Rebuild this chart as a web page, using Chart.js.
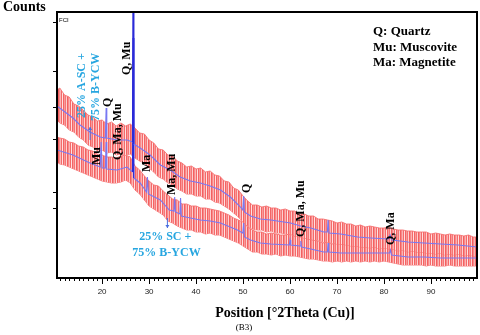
<!DOCTYPE html>
<html><head><meta charset="utf-8">
<script src="https://cdn.jsdelivr.net/npm/chart.js@4"></script>
<style>html,body{margin:0;padding:0;background:#fff}#wrap{position:relative;width:480px;height:335px}</style>
</head><body><div id="wrap"><canvas id="c"></canvas></div>
<script>
// ---- smoothed (fitted) profiles, 2theta vs intensity (arbitrary counts units)
const thetaA = [10.4,12.1,13.8,15.3,17.4,19.6,20.7,20.86,21.0,23.2,25.3,26.5,26.62,26.74,28.1,30.2,32.4,34.5,36.6,38.8,40.9,43.0,45.2,47.3,49.45,49.95,50.14,50.3,51.6,53.7,55.9,60.1,62.25,64.4,67.2,67.95,68.1,68.3,70.8,74.4,77.2,80.9,81.3,81.7,85.1,88.5,92.1,95.8,99.8];
const smoothA = [172,166,160,153,146,141,140,170,140,138,138,136,320,134,130,123,113,108,101,97,95,92,88,81,71,68,82,66,62,59,58,55,52,50,46,46,58,45,44,41,40,39,43,38,36,35,34,33,31];
const thetaB = [10.4,13.8,17.4,19.6,19.8,20.0,20.7,20.86,21.0,23.2,25.3,26.5,26.62,26.74,28.1,29.45,29.65,29.85,32.4,34.3,35.3,35.45,35.6,36.55,36.7,36.85,38.8,40.9,43.0,45.2,48.8,49.95,50.14,50.3,51.6,53.7,55.9,59.85,60.0,60.15,62.15,62.3,62.45,64.4,67.2,67.95,68.1,68.25,70.8,74.4,77.2,81.2,81.4,81.6,85.1,88.5,92.1,95.8,99.8];
const smoothB = [128,123,115,111,136,110,110,136,109,108,111,106,240,100,95,86,101,84,78,68,67,81,66,64,80,62,60,58,57,55,48,45,55,41,38,35,34,33,38,33,32,37,31,29,26,26,35,26,25,25,25,25,28,23,21,21,20,20,20];

// ---- raw (noisy) data envelopes, read every 1 degree
const rawTheta = [10.4,11,12,13,14,15,16,17,18,19,20,21,22,23,24,25,26,27,28,29,30,31,32,33,34,35,36,37,38,39,40,41,42,43,44,45,46,47,48,49,50,51,52,53,54,55,56,57,58,59,60,61,62,63,64,65,66,67,68,69,70,71,72,73,74,75,76,77,78,79,80,81,82,83,84,85,86,87,88,89,90,91,92,93,94,95,96,97,98,99,99.8];
const rawAHigh = [188,190,183,181,174,172,168,163,161,157,158,154,156,152,155,152,154,150,145,144,138,135,129,128,123,122,117,115,111,112,109,110,106,107,103,102,97,96,90,88,82,77,73,73,71,72,70,70,68,69,67,67,64,64,62,62,59,59,58,57,55,56,54,54,52,53,51,52,51,50,50,51,49,48,48,47,47,46,46,46,44,45,44,43,44,43,43,42,43,41,41];
const rawALow = [158,155,153,148,146,141,138,133,131,127,128,125,126,123,124,123,124,120,117,115,110,106,101,99,95,93,89,87,84,84,82,82,79,79,76,75,72,69,65,61,56,52,49,48,48,46,47,45,45,44,44,42,41,40,39,38,38,36,36,35,34,34,33,32,32,31,31,30,31,29,30,29,29,27,28,26,27,26,26,25,25,24,25,23,24,23,24,22,23,22,22];
const rawBHigh = [141,140,139,136,135,132,131,128,127,124,123,121,121,120,122,123,121,112,108,102,97,93,92,87,83,79,78,74,74,72,72,70,70,69,68,67,65,63,60,58,56,51,48,46,46,44,45,44,43,43,44,42,43,40,39,38,37,35,36,34,35,34,34,33,34,33,34,33,34,32,33,33,31,30,29,29,28,29,28,28,27,28,27,27,28,27,27,26,27,26,26];
const rawBLow = [116,114,113,111,109,107,105,103,101,99,97,96,95,95,96,98,95,88,84,78,72,69,66,63,57,55,52,50,48,48,46,46,44,45,43,43,41,39,37,35,32,29,26,26,24,24,23,24,22,23,22,22,21,20,19,19,18,17,17,16,17,16,17,16,17,16,17,16,17,16,17,16,15,14,13,13,13,13,13,12,13,12,12,12,13,12,12,12,12,12,12];

// ---- axis ticks
const xTickValues = [20,30,40,50,60,70,80,90];
const yTickValues = [70,86,139,171,207,256];

// ---- phase annotations (rotated)
const peakLabels = ["Q, Mu","Q","Q, Ma, Mu","Mu","Ma","Ma, Mu","Q","Q, Ma, Mu","Q, Ma"];
const peakLabelTheta = [25.33,21.3,23.4,18.9,29.6,34.9,50.9,62.25,81.46];
const peakLabelBase = [203,171,118,113,106,83,85,41,33];
const sampleALines = ["25% A-SC +","75% B-YCW"];
const sampleATheta = [15.73,18.72];
const sampleABase = [160,157];
const sampleBLines = ["25% SC +","75% B-YCW"];
const sampleBTheta = [33.44,33.7];
const sampleBMid = [41,25];
const legendLines = ["Q: Quartz","Mu: Muscovite","Ma: Magnetite"];
const arrowTheta = [17.45,33.9];
const arrowFrom = [138,60];
const arrowTo = [151,50];

const BLUE = '#7878f2', DARK = '#2a2ad8', RED = 'rgba(246,110,110,0.85)', CYAN = '#27a6e0';
const canvas = document.getElementById('c');
const ctx0 = canvas.getContext('2d');
// vertical-streak texture used as fill style for the raw-data bands
const streaks = ['#f46464','#f99a9a','#f67676','#fdd0d0','#f36060','#f88a8a','#fbb4b4','#f46a6a','#ffe0e0'];
const pc = document.createElement('canvas'); pc.width = streaks.length; pc.height = 4;
const pg = pc.getContext('2d');
streaks.forEach((c,i)=>{pg.fillStyle=c; pg.fillRect(i,0,1,4);});
const stripe = ctx0.createPattern(pc,'repeat');

const pts = (xs, ys) => xs.map((x,i)=>({x:x, y:ys[i]}));
const seg = {
  borderColor: c => Math.abs(c.p1.parsed.y - c.p0.parsed.y) > 60 ? DARK : BLUE,
  borderWidth: c => Math.abs(c.p1.parsed.y - c.p0.parsed.y) > 60 ? 1.4 : 1.1
};

const decor = {
  id: 'decor',
  afterDatasetsDraw(chart) {
    const g = chart.ctx, xs = chart.scales.x, ys = chart.scales.y, a = chart.chartArea;
    g.save();
    // frame
    g.strokeStyle = '#000'; g.lineWidth = 2;
    g.strokeRect(a.left, a.top, a.right - a.left, a.bottom - a.top);
    // x minor + major ticks
    g.lineWidth = 1;
    for (let v = 11; v <= 99; v++) {
      const px = Math.round(xs.getPixelForValue(v)) + 0.5;
      const len = xTickValues.includes(v) ? 6 : 3;
      g.beginPath(); g.moveTo(px, a.bottom); g.lineTo(px, a.bottom + len); g.stroke();
    }
    g.fillStyle = '#222'; g.font = '8px "Liberation Sans"'; g.textAlign = 'center'; g.textBaseline = 'middle';
    xTickValues.forEach(v => g.fillText(String(v), xs.getPixelForValue(v), a.bottom + 14));
    // y ticks
    yTickValues.forEach(v => {
      const py = Math.round(ys.getPixelForValue(v)) + 0.5;
      g.beginPath(); g.moveTo(a.left - 4, py); g.lineTo(a.left, py); g.stroke();
    });
    // peak labels
    g.fillStyle = '#000'; g.font = 'bold 12px "Liberation Serif"'; g.textAlign = 'left';
    peakLabels.forEach((t,i) => {
      g.save(); g.translate(xs.getPixelForValue(peakLabelTheta[i]), ys.getPixelForValue(peakLabelBase[i]));
      g.rotate(-Math.PI/2); g.fillText(t, 0, 0); g.restore();
    });
    g.fillStyle = CYAN;
    sampleALines.forEach((t,i) => {
      g.save(); g.translate(xs.getPixelForValue(sampleATheta[i]), ys.getPixelForValue(sampleABase[i]));
      g.rotate(-Math.PI/2); g.fillText(t, 0, 0); g.restore();
    });
    g.textAlign = 'center';
    sampleBLines.forEach((t,i) => g.fillText(t, xs.getPixelForValue(sampleBTheta[i]), ys.getPixelForValue(sampleBMid[i])));
    // arrows
    g.strokeStyle = '#4a6fe0'; g.fillStyle = '#4a6fe0'; g.lineWidth = 1;
    arrowTheta.forEach((t,i) => {
      const px = xs.getPixelForValue(t), y0 = ys.getPixelForValue(arrowFrom[i]), y1 = ys.getPixelForValue(arrowTo[i]);
      const d = y1 > y0 ? 1 : -1;
      g.beginPath(); g.moveTo(px, y0); g.lineTo(px, y1); g.stroke();
      g.beginPath(); g.moveTo(px, y1); g.lineTo(px - 2, y1 - 3*d); g.lineTo(px + 2, y1 - 3*d); g.closePath(); g.fill();
    });
    // legend
    g.fillStyle = '#000'; g.font = 'bold 13px "Liberation Serif"'; g.textAlign = 'left';
    legendLines.forEach((t,i) => g.fillText(t, 373, 32 + i*15.5));
    // FC marker
    g.font = '6px "Liberation Sans"'; g.fillText('FCI', a.left + 2, a.top + 8);
    // titles
    g.font = 'bold 14px "Liberation Serif"'; g.fillText('Counts', 3, 7);
    g.textAlign = 'center';
    g.font = 'bold 14px "Liberation Serif"'; g.fillText('Position [°2Theta (Cu)]', 285, 313);
    g.font = '9px "Liberation Serif"'; g.fillText('(B3)', 244, 328);
    g.restore();
  }
};

new Chart(canvas, {
  type: 'line',
  data: { datasets: [
    { label: 'A fit', data: pts(thetaA, smoothA), borderColor: BLUE, borderWidth: 1.1, pointRadius: 0, tension: 0, fill: false, order: 0, segment: seg },
    { label: 'B fit', data: pts(thetaB, smoothB), borderColor: BLUE, borderWidth: 1.1, pointRadius: 0, tension: 0, fill: false, order: 0, segment: seg },
    { label: 'A raw hi', data: pts(rawTheta, rawAHigh), borderColor: RED, borderWidth: 1, pointRadius: 0, tension: 0, fill: '+1', backgroundColor: stripe, order: 1 },
    { label: 'A raw lo', data: pts(rawTheta, rawALow), borderColor: RED, borderWidth: 1, pointRadius: 0, tension: 0, fill: false, order: 1 },
    { label: 'B raw hi', data: pts(rawTheta, rawBHigh), borderColor: RED, borderWidth: 1, pointRadius: 0, tension: 0, fill: '+1', backgroundColor: stripe, order: 1 },
    { label: 'B raw lo', data: pts(rawTheta, rawBLow), borderColor: RED, borderWidth: 1, pointRadius: 0, tension: 0, fill: false, order: 1 }
  ]},
  options: {
    responsive: true, maintainAspectRatio: false, animation: false,
    layout: { padding: { left: 57, right: 3, top: 12, bottom: 57 } },
    plugins: { legend: { display: false }, tooltip: { enabled: false } },
    scales: {
      x: { type: 'linear', min: 10.4, max: 99.8, display: false },
      y: { type: 'linear', min: 0, max: 266, display: false }
    }
  },
  plugins: [decor]
});
</script>
</body></html>
